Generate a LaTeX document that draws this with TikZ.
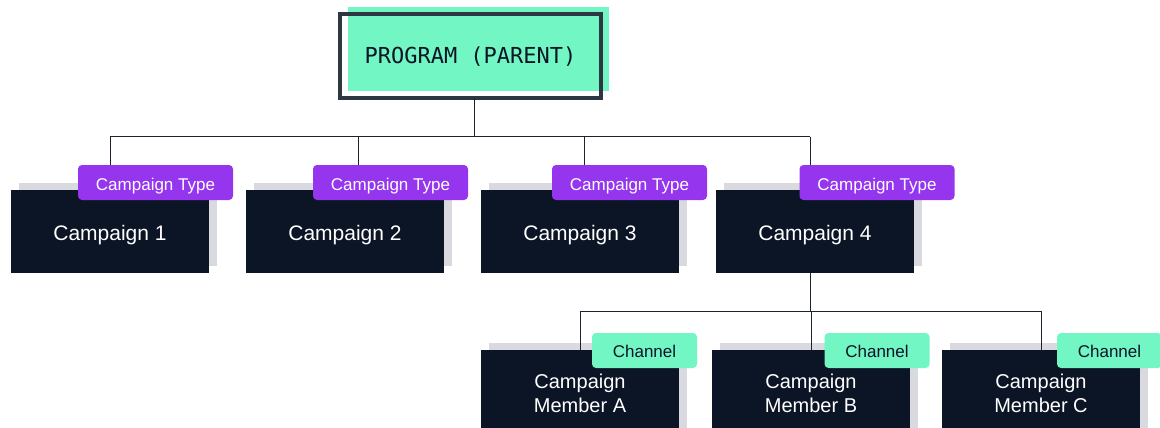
\documentclass[tikz,border=0pt]{standalone}
\usepackage{fontspec}
\setmainfont{Liberation Sans}
\newfontfamily\progfont{DejaVu Sans Mono}
\definecolor{navy}{HTML}{0C1526}
\definecolor{shade}{HTML}{D9DADF}
\definecolor{violet}{HTML}{9535EE}
\definecolor{mint}{HTML}{72F6C4}
\definecolor{frame}{HTML}{2D3741}
\definecolor{wire}{HTML}{1B2230}
\tikzset{
  cbox/.style={rectangle, fill=navy, text=white, inner sep=0pt, minimum width=198pt, minimum height=83pt, text height=17pt, text depth=0pt, font=\fontsize{21}{25}\selectfont},
  mbox/.style={rectangle, fill=navy, text=white, inner sep=0pt, minimum width=198pt, minimum height=86pt, align=center, font=\fontsize{20}{24}\selectfont},
  cshadow/.style={rectangle, fill=shade, inner sep=0pt, minimum width=198pt, minimum height=83pt},
  mshadow/.style={cshadow, minimum height=86pt},
  typetag/.style={rectangle, rounded corners=4pt, fill=violet, text=white, inner sep=0pt, minimum width=155pt, minimum height=35pt, text height=15pt, text depth=0pt, font=\fontsize{17}{20}\selectfont},
  chantag/.style={rectangle, rounded corners=4pt, fill=mint, text=navy, inner sep=0pt, minimum width=105pt, minimum height=35pt, text height=14pt, text depth=0pt, font=\fontsize{17}{20}\selectfont},
  conn/.style={draw=wire, line width=1pt},
}
\begin{document}
\begin{tikzpicture}[x=1pt,y=-1pt]
\useasboundingbox (0,0) rectangle (1160,428);
\clip (0,0) rectangle (1160,428);
% program
\node[rectangle, fill=mint, inner sep=0pt, minimum width=261pt, minimum height=84pt] (progbg) at (478.5,49) {};
\node[rectangle, draw=frame, line width=4pt, inner sep=0pt, minimum width=261pt, minimum height=84pt, text height=16pt, text depth=0pt, text=navy, font=\progfont\fontsize{22}{26}\selectfont] (prog) at (470.5,56) {PROGRAM (PARENT)};
% campaigns
\node[cshadow] (s1) at (118,224.5) {};
\node[cshadow] (s2) at (353,224.5) {};
\node[cshadow] (s3) at (588,224.5) {};
\node[cshadow] (s4) at (823,224.5) {};
\node[cbox] (c1) at (110,231.5) {Campaign 1};
\node[cbox] (c2) at (345,231.5) {Campaign 2};
\node[cbox] (c3) at (580,231.5) {Campaign 3};
\node[cbox] (c4) at (815,231.5) {Campaign 4};
\node[typetag] (t1) at (155.5,182.5) {Campaign Type};
\node[typetag] (t2) at (390.5,182.5) {Campaign Type};
\node[typetag] (t3) at (629.5,182.5) {Campaign Type};
\node[typetag] (t4) at (877,182.5) {Campaign Type};
% members
\node[mshadow] (ms1) at (588,386) {};
\node[mshadow] (ms2) at (819,386) {};
\node[mshadow] (ms3) at (1049,386) {};
\node[mbox] (ma) at (580,393) {Campaign\\Member A};
\node[mbox] (mb) at (811,393) {Campaign\\Member B};
\node[mbox] (mc) at (1041,393) {Campaign\\Member C};
\node[chantag] (ka) at (644.5,350.5) {Channel};
\node[chantag] (kb) at (877,350.5) {Channel};
\node[chantag] (kc) at (1109.5,350.5) {Channel};
% connectors
\coordinate (p0) at (474,98);
\coordinate (bus) at (474,136.5);
\coordinate (d1) at (110,165);
\coordinate (d2) at (358,165);
\coordinate (d3) at (584,165);
\coordinate (d4) at (810,165);
\coordinate (mbus) at (810,311);
\draw[conn] (p0) -- (bus);
\draw[conn] (d1 |- bus) -- (d4 |- bus);
\draw[conn] (d1 |- bus) -- (d1);
\draw[conn] (d2 |- bus) -- (d2);
\draw[conn] (d3 |- bus) -- (d3);
\draw[conn] (d4 |- bus) -- (d4);
\draw[conn] (c4.south -| mbus) -- (mbus);
\draw[conn] (ma.north |- mbus) -- (mc.north |- mbus);
\draw[conn] (ma.north |- mbus) -- (ma.north);
\draw[conn] (mb.north |- mbus) -- (mb.north);
\draw[conn] (mc.north |- mbus) -- (mc.north);
\end{tikzpicture}
\end{document}
